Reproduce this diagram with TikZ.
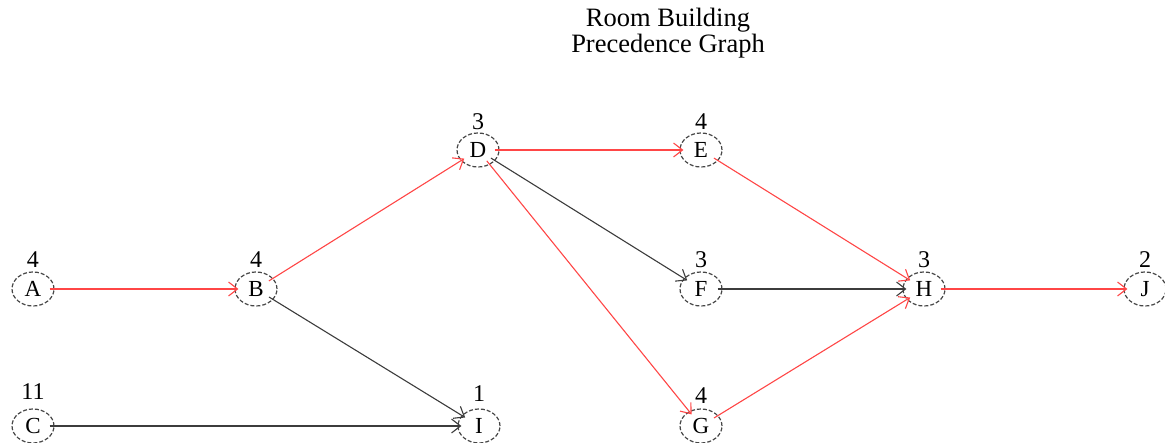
\documentclass[tikz,border=0pt]{standalone}
\usepackage{fontspec}
\setmainfont{Liberation Serif}
\usetikzlibrary{arrows.meta,shapes.geometric}
\definecolor{redline}{RGB}{255,70,70}
\definecolor{grayline}{RGB}{60,60,60}
\definecolor{ringgray}{RGB}{70,70,70}
\tikzset{
  vert/.style={ellipse, draw=ringgray, dash pattern=on 4pt off 2pt, line width=1.2pt,
    minimum width=42pt, minimum height=34pt, inner sep=0pt,
    font=\fontsize{23}{23}\selectfont},
  dur/.style={font=\fontsize{24}{24}\selectfont, inner sep=0pt},
  edge/.style={line width=1.1pt, shorten <=-5pt, shorten >=-4pt,
    -{Straight Barb[length=9pt,width=14pt,line width=1.1pt]}},
  crit/.style={edge, draw=redline},
  plain/.style={edge, draw=grayline},
  ttl/.style={font=\fontsize{26.5}{26}\selectfont, align=center, inner sep=0pt}
}
\begin{document}
\begin{tikzpicture}[x=1pt,y=-1pt]
\useasboundingbox (0,0) rectangle (1165,443);
\node[ttl] (title) at (668,33) {Room Building\\Precedence Graph};
\node[vert] (A) at (33,289) {A};
\node[vert] (B) at (256,289) {B};
\node[vert] (C) at (33,426) {C};
\node[vert] (D) at (478,150) {D};
\node[vert] (E) at (701,150) {E};
\node[vert] (F) at (701,289) {F};
\node[vert] (G) at (701,426) {G};
\node[vert] (H) at (924,289) {H};
\node[vert] (I) at (479,426) {I};
\node[vert] (J) at (1145,289) {J};
\node[dur] (lA) at (33,260) {4};
\node[dur] (lB) at (256,260) {4};
\node[dur] (lC) at (33,392) {11};
\node[dur] (lD) at (478,122) {3};
\node[dur] (lE) at (701,122) {4};
\node[dur] (lF) at (701,260) {3};
\node[dur] (lG) at (701,396) {4};
\node[dur] (lH) at (924,260) {3};
\node[dur] (lI) at (479,394) {1};
\node[dur] (lJ) at (1145,260) {2};
\draw[crit] (A) -- (B);
\draw[crit] (B) -- (D);
\draw[plain] (B) -- (I);
\draw[plain] (C) -- (I);
\draw[crit] (D) -- (E);
\draw[plain] (D) -- (F);
\draw[crit] (D) -- (G);
\draw[crit] (E) -- (H);
\draw[plain] (F) -- (H);
\draw[crit] (G) -- (H);
\draw[crit] (H) -- (J);
\end{tikzpicture}
\end{document}
